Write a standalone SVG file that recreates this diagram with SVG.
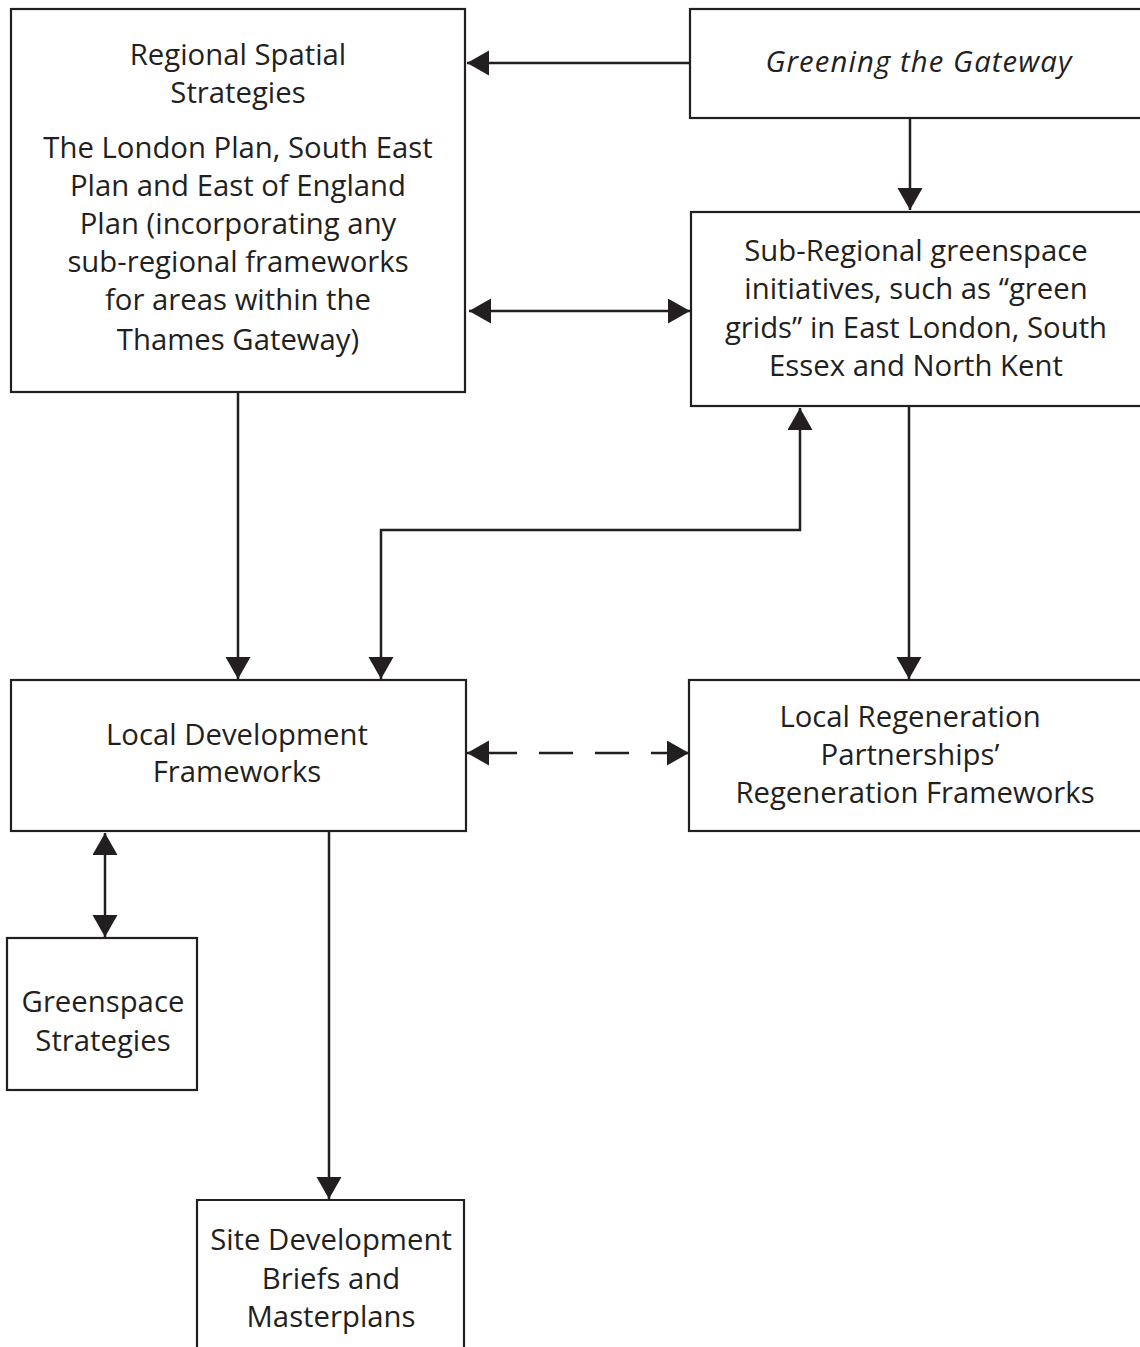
<svg xmlns="http://www.w3.org/2000/svg" width="1140" height="1347" viewBox="0 0 1140 1347">
<style>
.box{fill:#fff;stroke:#231f20;stroke-width:2.2}
.t{font-family:"Open Sans","Liberation Sans",sans-serif;font-size:29.3px;fill:#231f20;text-anchor:middle}
.i{font-style:italic;letter-spacing:1.1px}
.c{fill:none;stroke:#231f20;stroke-width:2.5}
</style>
<defs>
<marker id="ah" markerUnits="userSpaceOnUse" markerWidth="24" markerHeight="26" refX="22" refY="12.5" orient="auto-start-reverse" viewBox="0 0 24 26">
<path d="M0,0 L22,12.5 L0,25 z" fill="#231f20"/>
</marker>
</defs>
<rect width="1140" height="1347" fill="#fff"/>
<g id="n1">
<rect class="box" x="11" y="9" width="454" height="383"/>
<text class="t" x="238" y="65">Regional Spatial</text>
<text class="t" x="238" y="103">Strategies</text>
<text class="t" x="238" y="158">The London Plan, South East</text>
<text class="t" x="238" y="196">Plan and East of England</text>
<text class="t" x="238" y="234">Plan (incorporating any</text>
<text class="t" x="238" y="272">sub-regional frameworks</text>
<text class="t" x="238" y="310">for areas within the</text>
<text class="t" x="238" y="350">Thames Gateway)</text>
</g>
<g id="n2">
<rect class="box" x="690" y="9" width="460" height="109"/>
<text class="t i" x="919" y="72">Greening the Gateway</text>
</g>
<g id="n3">
<rect class="box" x="691" y="212" width="460" height="194"/>
<text class="t" x="916" y="261">Sub-Regional greenspace</text>
<text class="t" x="916" y="299">initiatives, such as “green</text>
<text class="t" x="916" y="338">grids” in East London, South</text>
<text class="t" x="916" y="376">Essex and North Kent</text>
</g>
<g id="n4">
<rect class="box" x="11" y="680" width="455" height="151"/>
<text class="t" x="237" y="745">Local Development</text>
<text class="t" x="237" y="782">Frameworks</text>
</g>
<g id="n5">
<rect class="box" x="689" y="680" width="460" height="151"/>
<text class="t" x="910" y="727">Local Regeneration</text>
<text class="t" x="910" y="765">Partnerships’</text>
<text class="t" x="915" y="803">Regeneration Frameworks</text>
</g>
<g id="n6">
<rect class="box" x="7" y="938" width="190" height="152"/>
<text class="t" x="103" y="1012">Greenspace</text>
<text class="t" x="103" y="1051">Strategies</text>
</g>
<g id="n7">
<path class="box" d="M197,1350 L197,1200 L464,1200 L464,1350"/>
<text class="t" x="331" y="1250">Site Development</text>
<text class="t" x="331" y="1289">Briefs and</text>
<text class="t" x="331" y="1327">Masterplans</text>
</g>
<g id="connectors">
<path class="c" d="M690,63 L467,63" marker-end="url(#ah)"/>
<path class="c" d="M469,311 L690,311" marker-start="url(#ah)" marker-end="url(#ah)"/>
<path class="c" d="M910,118 L910,210" marker-end="url(#ah)"/>
<path class="c" d="M800,408 L800,530 L381,530 L381,679" marker-start="url(#ah)" marker-end="url(#ah)"/>
<path class="c" d="M238,392 L238,679" marker-end="url(#ah)"/>
<path class="c" d="M909,406 L909,679" marker-end="url(#ah)"/>
<path class="c" d="M467,753 L689,753" stroke-dasharray="50 22 34 22 34 22 80" marker-start="url(#ah)" marker-end="url(#ah)"/>
<path class="c" d="M105,833 L105,937" marker-start="url(#ah)" marker-end="url(#ah)"/>
<path class="c" d="M329,832 L329,1199" marker-end="url(#ah)"/>
</g>
</svg>
